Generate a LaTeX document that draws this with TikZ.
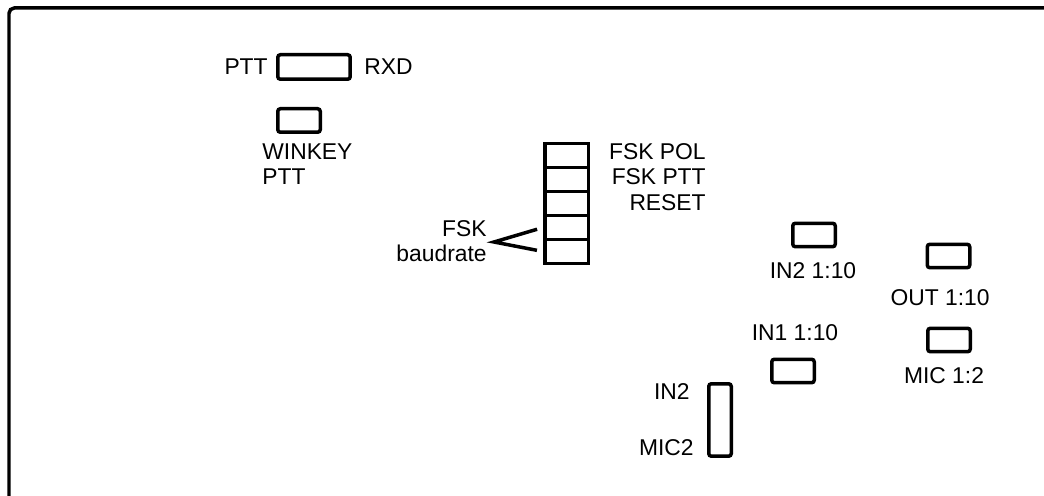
\documentclass[tikz,border=0pt]{standalone}
\usepackage{fontspec}
\setmainfont{Liberation Sans}
\usetikzlibrary{positioning}

\begin{document}
\begin{tikzpicture}[x=0.02cm,y=-0.02cm,
 portbox/.style={draw=black,line width=0.07cm,rounded corners=1.5pt,inner sep=0pt,minimum width=0.85cm,minimum height=0.47cm},
 cellbox/.style={draw=black,line width=0.07cm,inner sep=0pt,minimum width=0.87cm,minimum height=0.48cm},
 lbl/.style={inner sep=0pt,font=\fontsize{13}{14.5}\selectfont},
 frameline/.style={draw=black,line width=0.07cm,rounded corners=3pt}
]
\useasboundingbox (0,0) rectangle (1044,496);
\draw[frameline] (9,520) |- (1060,8);
% jumpers top left
\node[portbox,minimum width=1.45cm,minimum height=0.49cm] (rxdbox) at (314,67) {};
\node[lbl,anchor=base east] (pttlbl) at (268,75) {PTT};
\node[lbl,anchor=base west] (rxdlbl) at (364,75) {RXD};
\node[portbox] (winkbox) at (299,120.5) {};
\node[lbl,anchor=north west,align=left] (winklbl) at (262,143) {WINKEY\\PTT};
% FSK stack
\foreach \i/\yy in {1/155.5,2/179.5,3/203.5,4/227.5,5/251.5}
  \node[cellbox] (fsk\i) at (566.5,\yy) {};
\node[lbl,anchor=north east,align=right] (fsklbl) at (706,143) {FSK POL\\FSK PTT\\RESET};
\node[lbl,anchor=north east,align=right] (baudlbl) at (487,220) {FSK\\baudrate};
\coordinate (baudtip) at (494,242);
\draw[line width=0.07cm,shorten <=3.5pt,shorten >=3.5pt] (fsk4.west) -- (baudtip) -- (fsk5.west);
% audio jumpers
\node[portbox] (in2box) at (814,235) {};
\node[lbl,anchor=base] (in2lbl) at (813,279) {IN2 1:10};
\node[portbox] (outbox) at (948.5,256) {};
\node[lbl,anchor=base] (outlbl) at (940,306) {OUT 1:10};
\node[lbl,anchor=base] (in1lbl) at (795,340) {IN1 1:10};
\node[portbox] (in1box) at (793,371) {};
\node[portbox] (micbox) at (949,340) {};
\node[lbl,anchor=base] (miclbl) at (944,383) {MIC 1:2};
\node[portbox,minimum width=0.45cm,minimum height=1.45cm] (selbox) at (720,420) {};
\node[lbl,anchor=base east] (sellbl) at (690,399) {IN2};
\node[lbl,anchor=base east] (mic2lbl) at (694,455) {MIC2};
\end{tikzpicture}
\end{document}
